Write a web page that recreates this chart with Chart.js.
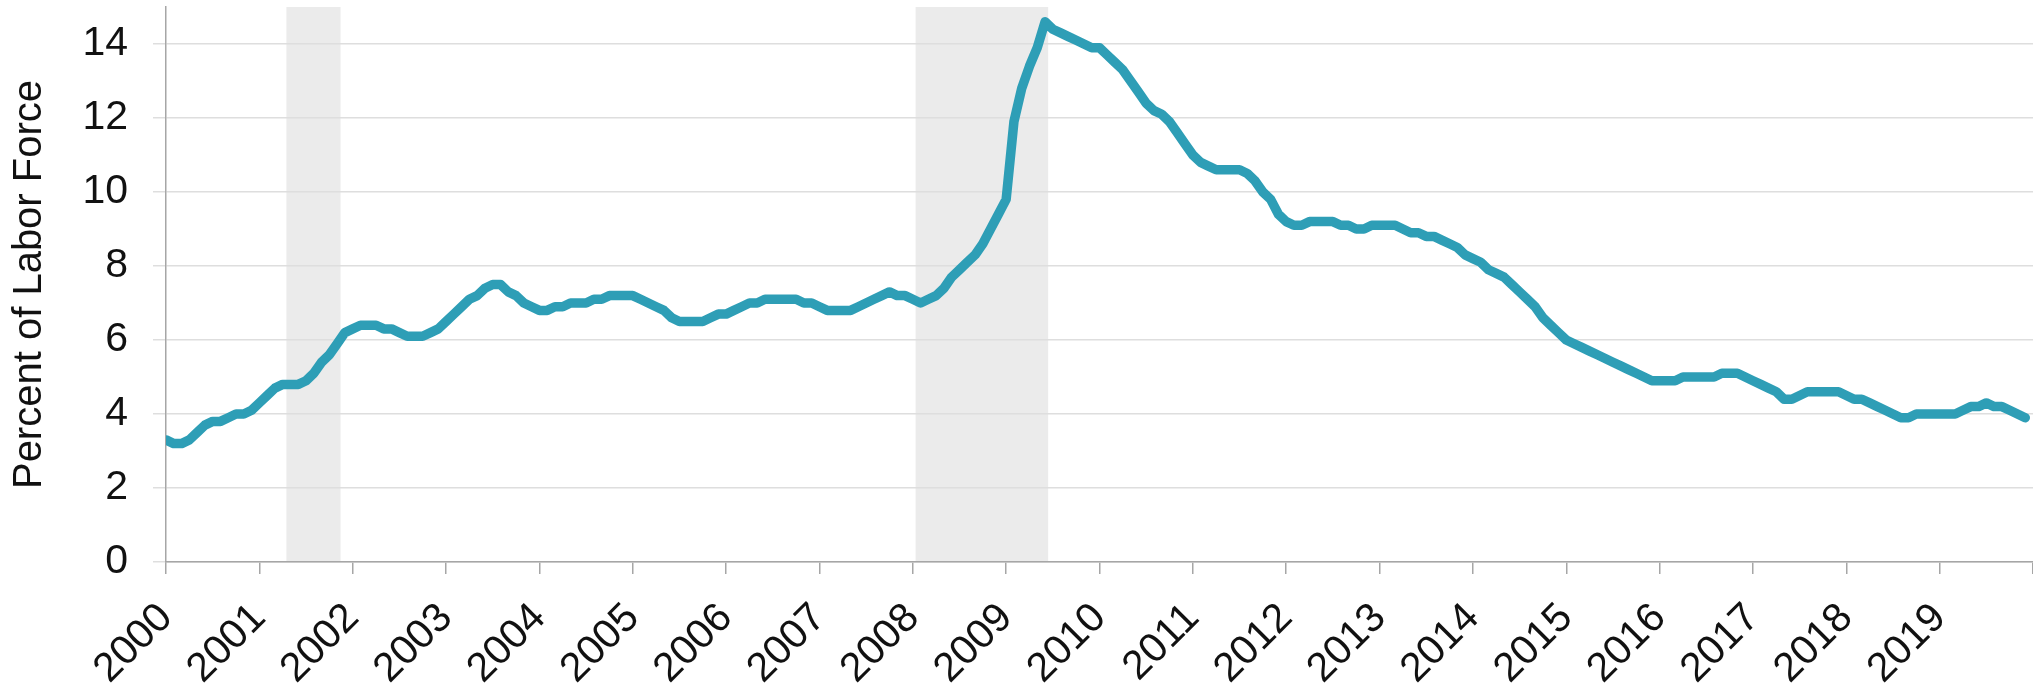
<!DOCTYPE html>
<html>
<head>
<meta charset="utf-8">
<title>Percent of Labor Force</title>
<script src="https://cdn.jsdelivr.net/npm/chart.js@4.4.1/dist/chart.umd.min.js"></script>
<style>
    html, body { margin: 0; padding: 0; background: #fff; }
    #wrap { width: 2033px; height: 688px; }
</style>
</head>
<body>
<div id="wrap"><canvas id="rateChart"></canvas></div>
<script>
// =====================
// Data (monthly, Jan 2000 - Dec 2019)
// =====================
const rate = [
    3.3, 3.2, 3.2, 3.3, 3.5, 3.7, 3.8, 3.8, 3.9, 4.0, 4.0, 4.1,       // 2000
    4.3, 4.5, 4.7, 4.8, 4.8, 4.8, 4.9, 5.1, 5.4, 5.6, 5.9, 6.2,       // 2001
    6.3, 6.4, 6.4, 6.4, 6.3, 6.3, 6.2, 6.1, 6.1, 6.1, 6.2, 6.3,       // 2002
    6.5, 6.7, 6.9, 7.1, 7.2, 7.4, 7.5, 7.5, 7.3, 7.2, 7.0, 6.9,       // 2003
    6.8, 6.8, 6.9, 6.9, 7.0, 7.0, 7.0, 7.1, 7.1, 7.2, 7.2, 7.2,       // 2004
    7.2, 7.1, 7.0, 6.9, 6.8, 6.6, 6.5, 6.5, 6.5, 6.5, 6.6, 6.7,       // 2005
    6.7, 6.8, 6.9, 7.0, 7.0, 7.1, 7.1, 7.1, 7.1, 7.1, 7.0, 7.0,       // 2006
    6.9, 6.8, 6.8, 6.8, 6.8, 6.9, 7.0, 7.1, 7.2, 7.3, 7.2, 7.2,       // 2007
    7.1, 7.0, 7.1, 7.2, 7.4, 7.7, 7.9, 8.1, 8.3, 8.6, 9.0, 9.4,       // 2008
    9.8, 11.9, 12.8, 13.4, 13.9, 14.6, 14.4, 14.3, 14.2, 14.1, 14.0, 13.9, // 2009
    13.9, 13.7, 13.5, 13.3, 13.0, 12.7, 12.4, 12.2, 12.1, 11.9, 11.6, 11.3, // 2010
    11.0, 10.8, 10.7, 10.6, 10.6, 10.6, 10.6, 10.5, 10.3, 10.0, 9.8, 9.4,  // 2011
    9.2, 9.1, 9.1, 9.2, 9.2, 9.2, 9.2, 9.1, 9.1, 9.0, 9.0, 9.1,       // 2012
    9.1, 9.1, 9.1, 9.0, 8.9, 8.9, 8.8, 8.8, 8.7, 8.6, 8.5, 8.3,       // 2013
    8.2, 8.1, 7.9, 7.8, 7.7, 7.5, 7.3, 7.1, 6.9, 6.6, 6.4, 6.2,       // 2014
    6.0, 5.9, 5.8, 5.7, 5.6, 5.5, 5.4, 5.3, 5.2, 5.1, 5.0, 4.9,       // 2015
    4.9, 4.9, 4.9, 5.0, 5.0, 5.0, 5.0, 5.0, 5.1, 5.1, 5.1, 5.0,       // 2016
    4.9, 4.8, 4.7, 4.6, 4.4, 4.4, 4.5, 4.6, 4.6, 4.6, 4.6, 4.6,       // 2017
    4.5, 4.4, 4.4, 4.3, 4.2, 4.1, 4.0, 3.9, 3.9, 4.0, 4.0, 4.0,       // 2018
    4.0, 4.0, 4.0, 4.1, 4.2, 4.2, 4.3, 4.2, 4.2, 4.1, 4.0, 3.9        // 2019
];

const firstYear = 2000;
const lastYear = 2020;
const yMax = 15;
const yStep = 2;

// Recession periods (shaded), in decimal years
const recessionStart = [2001.29, 2008.03];
const recessionEnd = [2001.87, 2009.45];

const fontFamily = "'Liberation Sans', Arial, sans-serif";

// =====================
// Recession shading plugin
// =====================
const recessionBands = {
    id: 'recessionBands',
    beforeDraw(chart) {
        const { ctx, chartArea, scales } = chart;
        const x = scales.x;
        ctx.save();
        ctx.fillStyle = '#ebebeb';
        recessionStart.forEach(function(start, i) {
            const left = x.getPixelForValue(start);
            const right = x.getPixelForValue(recessionEnd[i]);
            ctx.fillRect(left, chartArea.top, right - left, chartArea.bottom - chartArea.top);
        });
        ctx.restore();
    }
};

// =====================
// Chart
// =====================
(function() {
    const points = rate.map((v, i) => ({ x: firstYear + i / 12, y: v }));

    new Chart(document.getElementById('rateChart'), {
        type: 'line',
        data: {
            datasets: [{
                label: 'Percent of Labor Force',
                data: points,
                borderColor: '#2e9eb6',
                borderWidth: 9.5,
                borderJoinStyle: 'round',
                borderCapStyle: 'round',
                pointRadius: 0,
                tension: 0
            }]
        },
        options: {
            responsive: true,
            maintainAspectRatio: false,
            animation: false,
            devicePixelRatio: 1,
            layout: { padding: { top: 7, left: 0, right: 0, bottom: 0 } },
            plugins: {
                legend: { display: false },
                tooltip: { enabled: false }
            },
            scales: {
                x: {
                    type: 'linear',
                    min: firstYear,
                    max: lastYear,
                    afterFit(scale) {
                        scale.height = 126;
                        scale.paddingLeft = 0;
                        scale.paddingRight = 0;
                    },
                    ticks: {
                        stepSize: 1,
                        autoSkip: false,
                        maxRotation: 45,
                        minRotation: 45,
                        padding: 20,
                        color: '#111',
                        font: { family: fontFamily, size: 41 },
                        callback: v => (v < lastYear ? String(v) : '')
                    },
                    grid: {
                        drawOnChartArea: false,
                        tickLength: 12,
                        color: '#a6a6a6',
                        lineWidth: 1.5
                    },
                    border: { color: '#a6a6a6', width: 1.5 }
                },
                y: {
                    min: 0,
                    max: yMax,
                    afterFit(scale) {
                        scale.width = 166;
                        scale.paddingTop = 0;
                        scale.paddingBottom = 0;
                    },
                    ticks: {
                        stepSize: yStep,
                        includeBounds: false,
                        padding: 25,
                        color: '#111',
                        font: { family: fontFamily, size: 41 }
                    },
                    grid: {
                        color: '#dedede',
                        lineWidth: 1.5,
                        tickLength: 13
                    },
                    border: { color: '#a6a6a6', width: 1.5 },
                    title: {
                        display: true,
                        text: 'Percent of Labor Force',
                        color: '#111',
                        font: { family: fontFamily, size: 40 },
                        padding: { top: 6, bottom: 0 }
                    }
                }
            }
        },
        plugins: [recessionBands]
    });
})();
</script>
</body>
</html>
